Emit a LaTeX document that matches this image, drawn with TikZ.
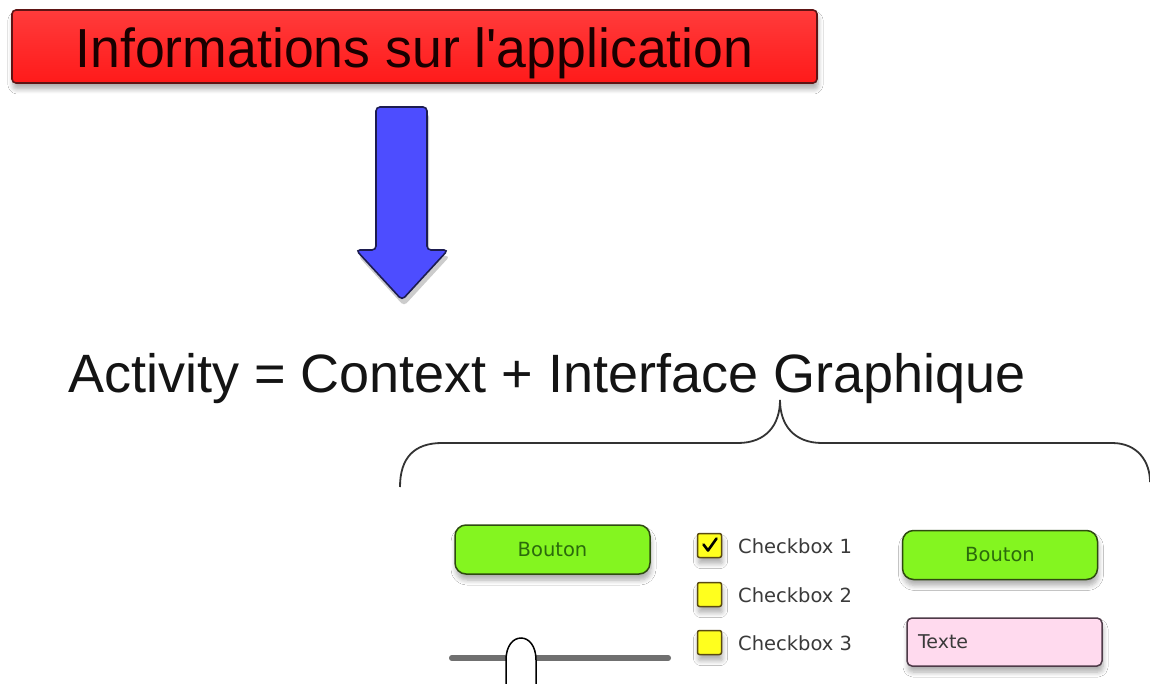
\documentclass[tikz,border=0pt]{standalone}
\usepackage{fontspec}
\setmainfont{Liberation Sans}
\newfontfamily\uifont{DejaVu Sans}
\usetikzlibrary{shadows.blur}

\definecolor{titlered}{HTML}{FF1A1A}
\definecolor{titleredtop}{HTML}{FF3B3B}
\definecolor{titleedge}{HTML}{5E1414}
\definecolor{arrowblue}{HTML}{4D4DFF}
\definecolor{arrowedge}{HTML}{1C1C50}
\definecolor{btngreen}{HTML}{84F520}
\definecolor{btnedge}{HTML}{2E4A10}
\definecolor{btntext}{HTML}{2B6A0C}
\definecolor{boxyellow}{HTML}{FFFF1E}
\definecolor{boxedge}{HTML}{5A4A12}
\definecolor{fieldpink}{HTML}{FFDAEE}
\definecolor{fieldedge}{HTML}{4E3A48}
\definecolor{uitext}{HTML}{3A3A3A}
\definecolor{slidergray}{HTML}{707070}

\tikzset{
  softshadow/.style={blur shadow={shadow blur steps=6, shadow xshift=1pt,
      shadow yshift=-6pt, shadow opacity=32, shadow blur radius=5pt}},
  title/.style={draw=titleedge, line width=1.6pt, rounded corners=4pt,
      top color=titleredtop, bottom color=titlered, softshadow,
      minimum width=805pt, minimum height=73pt, inner sep=0pt,
      text height=42pt, text depth=0pt,
      text=black!90!red, font=\fontsize{55}{60}\selectfont},
  formula/.style={inner sep=0pt, text=black!92,
      font=\fontsize{54}{60}\selectfont},
  button/.style={draw=btnedge, line width=1.5pt, rounded corners=11pt,
      fill=btngreen, softshadow, minimum width=195pt, minimum height=49pt,
      inner sep=0pt, text=btntext, font=\uifont\fontsize{19.5}{22}\selectfont},
  checkbox/.style={draw=boxedge, line width=1.5pt, rounded corners=2pt,
      fill=boxyellow, softshadow, minimum size=24pt, inner sep=0pt},
  cblabel/.style={anchor=west, inner sep=0pt, text=uitext,
      font=\uifont\fontsize{19.5}{22}\selectfont},
  field/.style={draw=fieldedge, line width=1.5pt, rounded corners=5pt,
      fill=fieldpink, softshadow, minimum width=195pt, minimum height=48pt,
      inner sep=0pt, text=uitext, font=\uifont\fontsize{19}{22}\selectfont},
}

\begin{document}
\begin{tikzpicture}[x=1pt, y=-1pt]
  \useasboundingbox[fill=white] (0,0) rectangle (1150,684);

  % title bar
  \node[title] (info) at (414.5,46.5)
    {\scalebox{0.975}[1]{Informations sur l\textquotesingle application}};

  % block arrow pointing down
  \fill[black, opacity=0.2, rounded corners=4pt, xshift=2pt, yshift=-6pt]
    (376,107) -- (427,107) -- (427,250) -- (448,250) -- (402,300)
    -- (356,250) -- (376,250) -- cycle;
  \draw[arrowedge, fill=arrowblue, line width=1.6pt, rounded corners=4pt]
    (376,107) -- (427,107) -- (427,250) -- (448,250) -- (402,300)
    -- (356,250) -- (376,250) -- cycle;

  % equation
  \node[formula, anchor=base west] (eq) at (68,392)
    {Activity = Context + Interface Graphique};

  % curly brace under "Graphique"
  \draw[black!80, line width=1.8pt]
    (400,487) .. controls (400,458) and (414,443) .. (442,443)
    -- (738,443) .. controls (766,443) and (780,425) .. (780,400)
    .. controls (780,425) and (794,443) .. (822,443)
    -- (1112,443) .. controls (1138,443) and (1150,462) .. (1150,482);

  % widgets
  \node[button] (b1) at (552.5,549.5) {Bouton};
  \node[button] (b2) at (1000,555) {Bouton};
  \node[field, text width=173pt, align=left] (txt) at (1004.5,642) {Texte};

  \node[checkbox] (c1) at (709.5,545.5) {};
  \node[checkbox] (c2) at (709.5,594.5) {};
  \node[checkbox] (c3) at (709.5,642.5) {};
  \draw[black, line width=2.6pt, line cap=round, line join=round]
    ([shift={(-6pt,1pt)}]c1.center) -- ([shift={(-1.5pt,-5pt)}]c1.center)
    -- ([shift={(7pt,7pt)}]c1.center);
  \node[cblabel] (l1) at (738,546) {Checkbox 1};
  \node[cblabel] (l2) at (738,595) {Checkbox 2};
  \node[cblabel] (l3) at (738,643) {Checkbox 3};

  % slider
  \coordinate (sa) at (452,658);
  \coordinate (sb) at (668,658);
  \draw[black, opacity=0.2, line width=6pt, line cap=round, yshift=-3pt] (sa) -- (sb);
  \draw[slidergray, line width=6pt, line cap=round] (sa) -- (sb);
  \draw[black, fill=white, line width=1.5pt]
    (506,690) -- (506,660) .. controls (506,646) and (513,638) .. (521,638)
    .. controls (529,638) and (536,646) .. (536,660) -- (536,690);
\end{tikzpicture}
\end{document}
